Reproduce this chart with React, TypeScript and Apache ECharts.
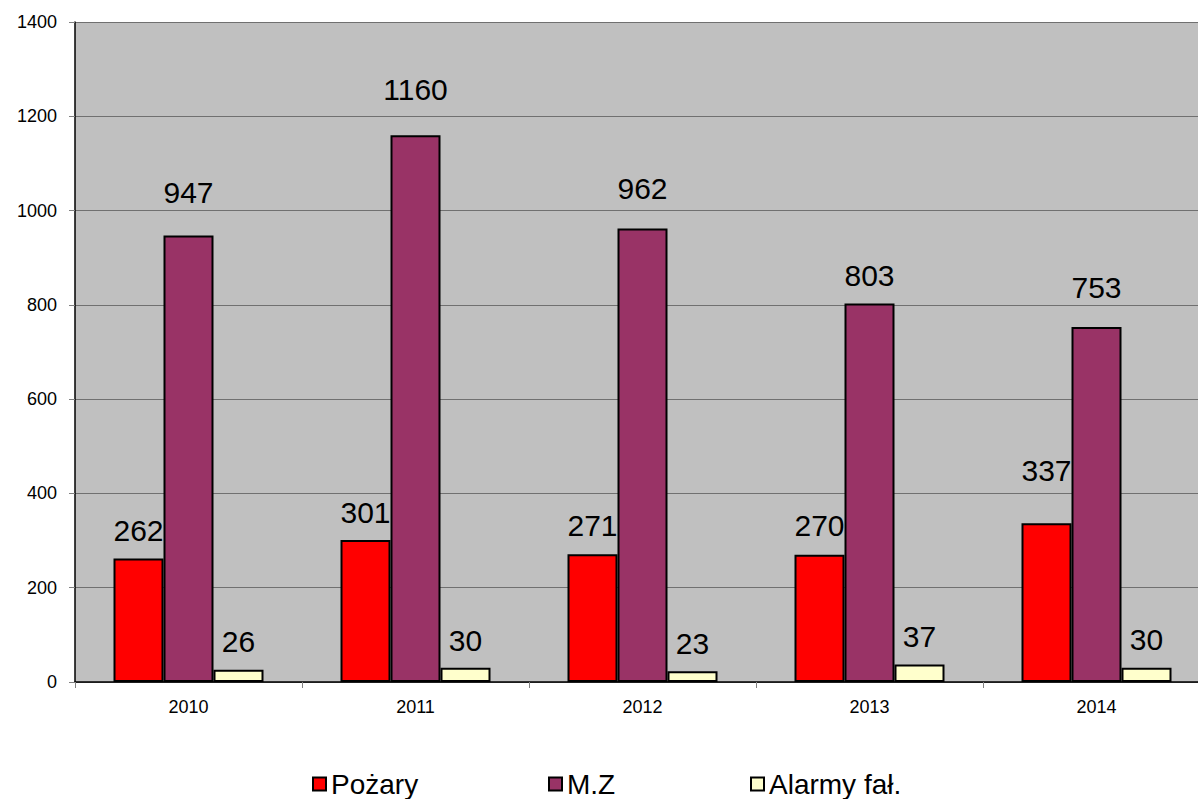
import React, { useEffect, useRef } from "react";
import * as echarts from "echarts";

const categories = ["2010", "2011", "2012", "2013", "2014"];
const seriesNames = ["Pożary", "M.Z", "Alarmy fał."];
const pozary = [262, 301, 271, 270, 337];
const mz = [947, 1160, 962, 803, 753];
const alarmy = [26, 30, 23, 37, 30];
const seriesColors = ["#FF0000", "#993366", "#FFFFCC"];
// label lift above each bar (px), as placed in the reference
const pozaryLabelLift = [13, 13, 14, 14, 38];
const mzLabelLift = [28, 31, 25, 13, 25];
const alarmyLabelLift = [13, 12, 13, 13, 13];
const legendLefts = [312, 548, 750];

const FONT = 'Arial, "Liberation Sans", sans-serif';

export default function App() {
  const ref = useRef<HTMLDivElement>(null);
  useEffect(() => {
    if (!ref.current) return;
    const chart = echarts.init(ref.current, null, { renderer: "svg" });
    const values = [pozary, mz, alarmy];
    const lifts = [pozaryLabelLift, mzLabelLift, alarmyLabelLift];
    const series = values.map((vals, si) => ({
      name: seriesNames[si],
      type: "bar",
      barWidth: 50,
      barGap: "0%",
      itemStyle: { color: seriesColors[si], borderColor: "#000", borderWidth: 2 },
      label: {
        show: true,
        position: "top",
        color: "#000",
        fontSize: 30,
        fontFamily: FONT,
      },
      data: vals.map((v, i) => ({ value: v, label: { distance: lifts[si][i] } })),
    }));
    chart.setOption({
      animation: false,
      backgroundColor: "#fff",
      textStyle: { fontFamily: FONT },
      grid: {
        left: 75,
        top: 22,
        width: 1135,
        height: 660,
        show: true,
        backgroundColor: "#C0C0C0",
        borderWidth: 0,
      },
      legend: seriesNames.map((n, i) => ({
        data: [
          {
            name: n,
            icon: "rect",
            itemStyle: { color: seriesColors[i], borderColor: "#000", borderWidth: 2 },
          },
        ],
        left: legendLefts[i],
        top: 770,
        padding: 0,
        itemWidth: 13,
        itemHeight: 13,
        itemStyle: { borderColor: "#000", borderWidth: 2 },
        textStyle: { fontSize: 28, color: "#000", fontFamily: FONT },
        selectedMode: false,
      })),
      xAxis: {
        type: "category",
        data: categories,
        axisLine: { lineStyle: { color: "#000", width: 1.5 } },
        axisTick: { show: true, length: 6, lineStyle: { color: "#808080" } },
        axisLabel: { color: "#000", fontSize: 18, margin: 16, fontFamily: FONT },
      },
      yAxis: {
        type: "value",
        min: 0,
        max: 1400,
        interval: 200,
        axisLine: { show: true, lineStyle: { color: "#000", width: 1.5 } },
        axisTick: { show: true, length: 6, lineStyle: { color: "#808080" } },
        axisLabel: {
          color: "#000",
          fontSize: 18,
          margin: 18,
          fontFamily: FONT,
          formatter: (v: number) => String(v),
        },
        splitLine: { show: true, lineStyle: { color: "#707070", width: 1 } },
      },
      series,
    });
    return () => chart.dispose();
  }, []);
  return (
    <div style={{ position: "absolute", left: 0, top: 0, width: 1198, height: 799, overflow: "hidden" }}>
      <div ref={ref} style={{ width: 1212, height: 799 }} />
    </div>
  );
}
